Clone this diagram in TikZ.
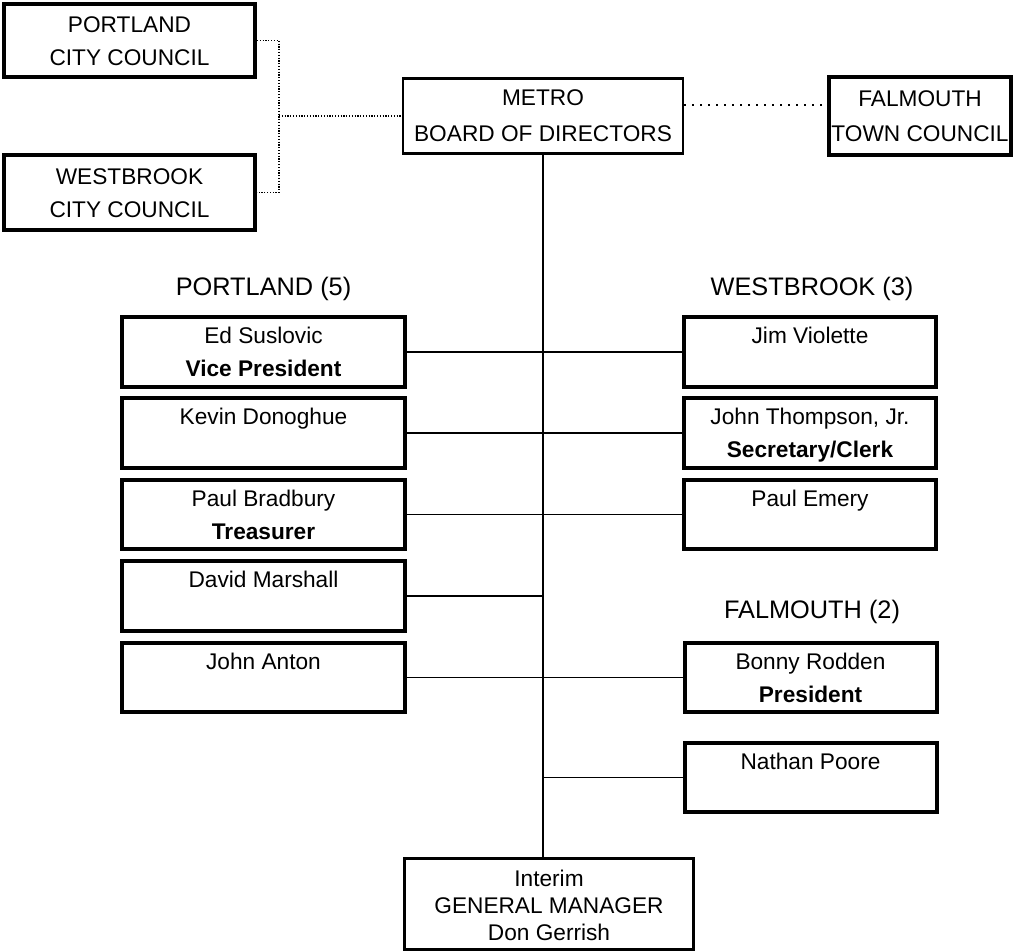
\documentclass[tikz,border=0pt]{standalone}
\usepackage{fontspec}
\setmainfont{Liberation Sans}
\newcommand{\topstrut}{\rule{0pt}{20pt}}
\newcommand{\twoline}[2]{\topstrut\strut #1\\\strut #2}
\begin{document}
\begin{tikzpicture}[x=0.75pt,y=-0.75pt,
  txt/.style={font=\fontsize{17}{24.75}\selectfont},
  box/.style={draw, line width=3pt, inner sep=0pt, align=center, txt},
  thinbox/.style={draw, line width=2pt, inner sep=0pt, align=center, txt},
  leftbox/.style={box, minimum width=212.25pt, minimum height=50pt},
  rightbox/.style={box, minimum width=189pt, minimum height=50pt},
  head/.style={anchor=base, font=\fontsize{19}{22}\selectfont},
  link/.style={line width=0.8pt},
  fine dots/.style={line width=0.9pt, dash pattern=on 0.9pt off 1.2pt},
  wide dots/.style={line width=1.4pt, dash pattern=on 1.4pt off 4.6pt}]
\useasboundingbox (0,0) rectangle (1020,952);

% councils and board
\node[box, minimum width=188.25pt, minimum height=54.75pt] (pcc) at (129.5,40.5) {\twoline{PORTLAND}{CITY COUNCIL}};
\node[box, minimum width=188.25pt, minimum height=56.25pt] (wcc) at (129.5,192.5) {\twoline{WESTBROOK}{CITY COUNCIL}};
\node[thinbox, minimum width=210pt, minimum height=56.25pt, font=\fontsize{17}{27}\selectfont] (metro) at (543,116) {\twoline{METRO}{BOARD OF DIRECTORS}};
\node[box, minimum width=136.5pt, minimum height=58.5pt, font=\fontsize{17}{26.25}\selectfont] (ftc) at (920,116) {\twoline{FALMOUTH}{TOWN COUNCIL}};

% headers
\node[head] (hp) at (263.5,295) {PORTLAND (5)};
\node[head] (hw) at (812,295) {WESTBROOK (3)};
\node[head] (hf) at (812,618) {FALMOUTH (2)};

% Portland members
\node[leftbox] (ed) at (263.5,352) {\twoline{Ed Suslovic}{\textbf{Vice President}}};
\node[leftbox] (kevin) at (263.5,433) {\twoline{Kevin Donoghue}{}};
\node[leftbox] (paulb) at (263.5,514.5) {\twoline{Paul Bradbury}{\textbf{Treasurer}}};
\node[leftbox] (david) at (263.5,596) {\twoline{David Marshall}{}};
\node[leftbox] (anton) at (263.5,677.5) {\twoline{John Anton}{}};

% Westbrook members
\node[rightbox] (jim) at (810,352) {\twoline{Jim Violette}{}};
\node[rightbox] (thompson) at (810,433) {\twoline{John Thompson, Jr.}{\textbf{Secretary/Clerk}}};
\node[rightbox] (emery) at (810,514.5) {\twoline{Paul Emery}{}};

% Falmouth members
\node[rightbox] (bonny) at (810.5,677.5) {\twoline{Bonny Rodden}{\textbf{President}}};
\node[rightbox] (nathan) at (810.5,777.5) {\twoline{Nathan Poore}{}};

% general manager
\node[thinbox, minimum width=216.75pt, minimum height=68.25pt, font=\fontsize{17}{20}\selectfont] (gm) at (549,904) {\topstrut\strut Interim\\\strut GENERAL MANAGER\\\strut Don Gerrish};

% dotted links
\coordinate (bj) at (279,116);
\draw[fine dots] (pcc.east) -| (bj) |- (wcc.east);
\draw[fine dots] (bj) -- (metro.west);
\draw[wide dots] ([yshift=8pt]metro.east) -- ([yshift=8pt]metro.east -| ftc.west);

% spine
\draw[link] (metro.south) -- (metro.south |- gm.north);
\draw[link] (ed.east) -- (jim.west);
\draw[link] (kevin.east) -- (thompson.west);
\draw[link] (paulb.east) -- (emery.west);
\draw[link] (david.east) -- (david.east -| metro.south);
\draw[link] (anton.east) -- (bonny.west);
\draw[link] (nathan.west) -- (nathan.west -| metro.south);
\end{tikzpicture}
\end{document}
